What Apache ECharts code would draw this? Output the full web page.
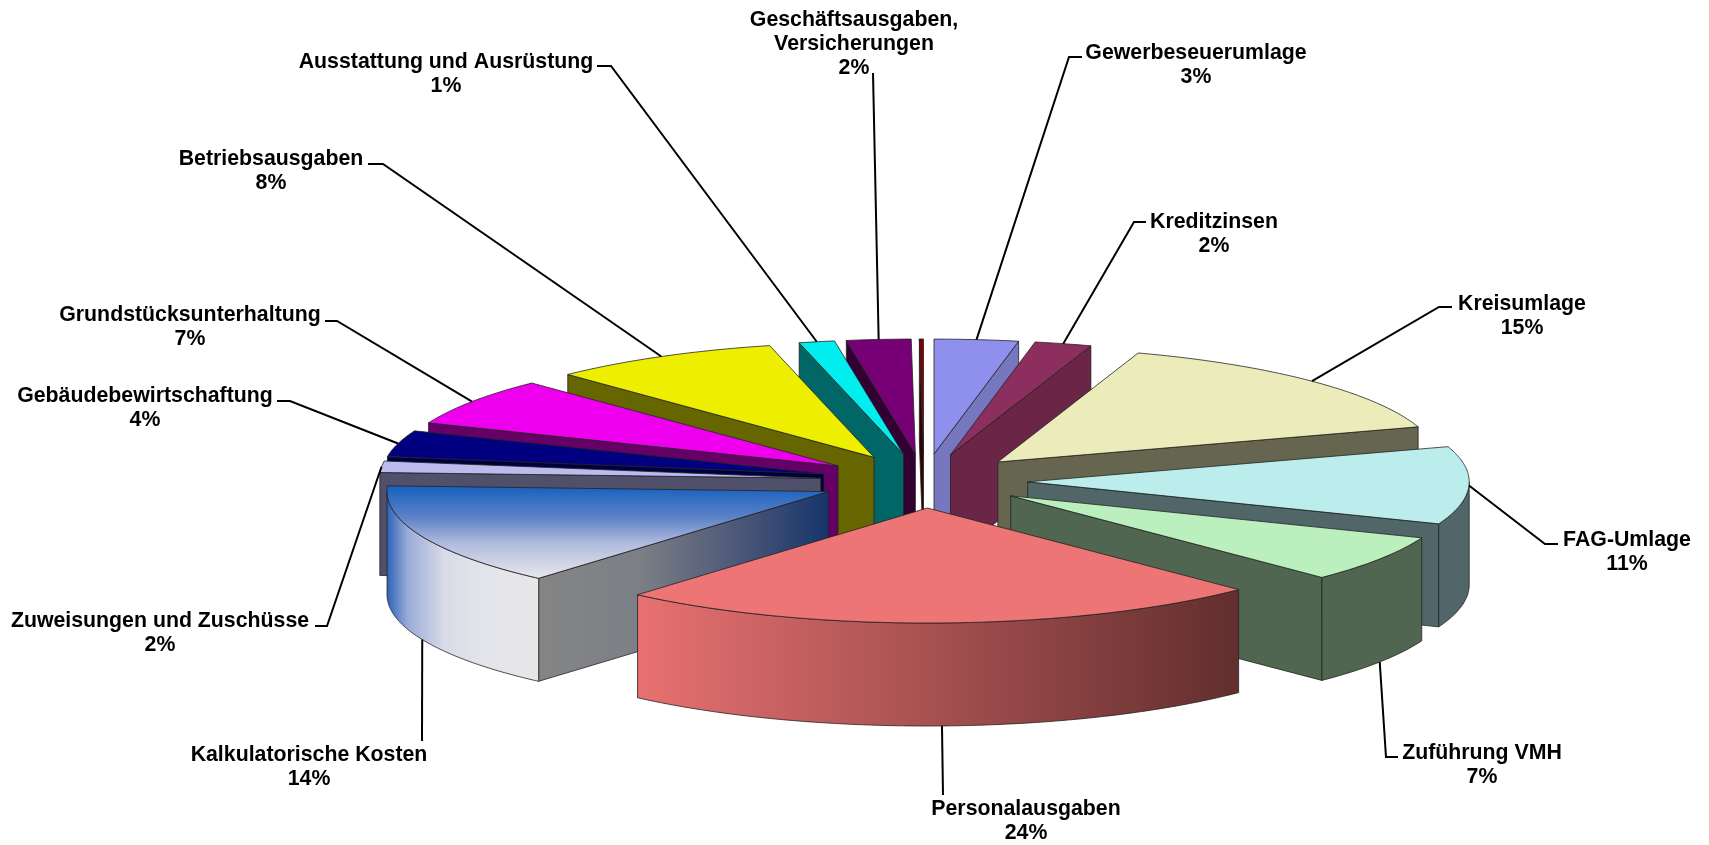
<!DOCTYPE html>
<html>
<head>
<meta charset="utf-8">
<title>Aufwendungen</title>
<script src="https://cdn.jsdelivr.net/npm/echarts@6/dist/echarts.min.js"></script>
<style>
  html, body { margin: 0; padding: 0; background: #fff; }
  #chart { width: 1709px; height: 845px; }
</style>
</head>
<body>
<div id="chart"></div>
<script>
// clockwise from 12 o'clock
const names = ['Gewerbeseuerumlage', 'Kreditzinsen', 'Kreisumlage', 'FAG-Umlage', 'Zuführung VMH',
  'Personalausgaben', 'Kalkulatorische Kosten', 'Zuweisungen und Zuschüsse', 'Gebäudebewirtschaftung',
  'Grundstücksunterhaltung', 'Betriebsausgaben', 'Ausstattung und Ausrüstung',
  'Geschäftsausgaben,\nVersicherungen', ''];
const shares = [3.07, 2.08, 14.9, 10.9, 6.6, 23.85, 14.4, 1.6, 3.7, 6.7, 8.4, 1.3, 2.35, 0.15];

const topColors = ['#8F8FEE', '#8C2E5E', '#ECECBB', '#BBEDED', '#BBEFBD', '#ED7575', null, '#BBBBEE',
  '#000080', '#EE00EE', '#EEEE00', '#00EEEE', '#770077', '#800000'];
const sideColors = ['#7777BF', '#6A2547', '#666650', '#506668', '#506650', null, null, '#50506A',
  '#000040', '#660066', '#666600', '#006666', '#330033', '#350000'];

// label centre of first line, then leader elbow and end
const labelX = [1196, 1214, 1522, 1627, 1482, 1026, 309, 160, 145, 190, 271, 446, 854, null];
const labelY = [53, 222, 304, 540, 753, 809, 755, 621, 396, 315, 159, 62, 20, null];
const elbowX = [1069, 1134, 1439, 1545, 1386, 943, 422, 327, 290, 337, 383, 611, 873, null];
const elbowY = [57, 222, 307, 544, 757, 795, 741, 626, 401, 321, 164, 66, 73, null];
const stubX = [1082, 1146, 1452, 1558, 1398, 943, 422, 315, 277, 325, 368, 597, 873, null];

const PERSONAL = 5;
const KALK = 6;
const EXPLODE = 0.235;
const DEPTH = 103;
const EDGE = '#222';

const total = shares.reduce((a, b) => a + b, 0);
const slices = [];
let acc = 0;
shares.forEach((v, i) => {
  const start = acc / total * Math.PI * 2;
  acc += v;
  const end = acc / total * Math.PI * 2;
  slices.push({ index: i, start, end, mid: (start + end) / 2 });
});

// far slices first, Personalausgaben ends up on top
const drawOrder = slices.slice().sort((a, b) => Math.cos(b.mid) - Math.cos(a.mid)).map(s => s.index);

const grad = (x2, y2, stops) => new echarts.graphic.LinearGradient(0, 0, x2, y2,
  stops.map(s => ({ offset: s[0], color: s[1] })));

const kalkTop = grad(0, 1, [[0, '#1560BE'], [0.35, '#5F82C8'], [0.62, '#B0BBDD'], [1, '#E8E8EC']]);
const kalkArc = grad(1, 0, [[0, '#2B62B8'], [0.14, '#9AACD6'], [0.38, '#D8DBE8'], [0.65, '#E4E5EA'], [1, '#E7E7E9']]);
const kalkWall = grad(1, 0, [[0, '#858585'], [0.35, '#7C7F86'], [0.7, '#4A5678'], [1, '#16356B']]);
const personalArc = grad(1, 0, [[0, '#E87171'], [1, '#622E2E']]);

function renderSlice(params, api) {
  const s = slices[api.value(0)];
  const i = s.index;
  const ax = EXPLODE * Math.sin(s.mid);
  const ay = EXPLODE * Math.cos(s.mid);
  const rim = a => api.coord([ax + Math.sin(a), ay + Math.cos(a)]);
  const apex = api.coord([ax, ay]);
  const down = p => [p[0], p[1] + DEPTH];
  const children = [];

  const arc = (from, to) => {
    const pts = [];
    const n = Math.max(2, Math.ceil((to - from) / 0.01));
    for (let k = 0; k <= n; k++) pts.push(rim(from + (to - from) * k / n));
    return pts;
  };
  const poly = (points, fill) => children.push({
    type: 'polygon',
    shape: { points },
    style: { fill, stroke: EDGE, lineWidth: 0.8 }
  });

  // wall facing the viewer
  if (s.end < Math.PI) {
    const p = rim(s.end);
    poly([apex, p, down(p), down(apex)], sideColors[i]);
  }
  if (s.start > Math.PI) {
    const p = rim(s.start);
    poly([apex, p, down(p), down(apex)], i === KALK ? kalkWall : sideColors[i]);
  }

  // outer rim, front half of the ellipse only
  const from = Math.max(s.start, Math.PI / 2);
  const to = Math.min(s.end, Math.PI * 1.5);
  if (to > from) {
    const top = arc(from, to);
    const fill = i === PERSONAL ? personalArc : i === KALK ? kalkArc : sideColors[i];
    poly(top.concat(top.slice().reverse().map(down)), fill);
  }

  poly([apex].concat(arc(s.start, s.end)), i === KALK ? kalkTop : topColors[i]);
  return { type: 'group', children };
}

function renderLabel(params, api) {
  const s = slices[api.value(0)];
  const i = s.index;
  if (!names[i]) return null;
  const ax = EXPLODE * Math.sin(s.mid);
  const ay = EXPLODE * Math.cos(s.mid);
  const start = api.coord([ax + Math.sin(s.mid), ay + Math.cos(s.mid)]);
  if (Math.cos(s.mid) < -0.3) start[1] += DEPTH;

  const children = [{
    type: 'polyline',
    shape: { points: [start, [elbowX[i], elbowY[i]], [stubX[i], elbowY[i]]] },
    style: { fill: null, stroke: '#000', lineWidth: 2 }
  }];
  names[i].split('\n').concat(Math.round(shares[i] / total * 100) + '%').forEach((line, k) => {
    children.push({
      type: 'text',
      style: {
        text: line,
        x: labelX[i],
        y: labelY[i] + k * 24,
        align: 'center',
        verticalAlign: 'middle',
        font: 'bold 21.3px "Liberation Sans", Arial, sans-serif',
        fill: '#000'
      }
    });
  });
  return { type: 'group', children };
}

const chart = echarts.init(document.getElementById('chart'));
chart.setOption({
  backgroundColor: '#fff',
  animation: false,
  grid: { left: 482.5, top: 366, width: 883, height: 230 },
  xAxis: { type: 'value', min: -1, max: 1, show: false },
  yAxis: { type: 'value', min: -1, max: 1, show: false },
  series: [
    {
      type: 'custom',
      silent: true,
      clip: false,
      renderItem: renderSlice,
      encode: { x: 0, y: 0 },
      data: drawOrder.map(i => [i]),
      z: 2
    },
    {
      type: 'custom',
      silent: true,
      clip: false,
      renderItem: renderLabel,
      encode: { x: 0, y: 0 },
      data: drawOrder.map(i => [i]),
      z: 3
    }
  ]
});
</script>
</body>
</html>
